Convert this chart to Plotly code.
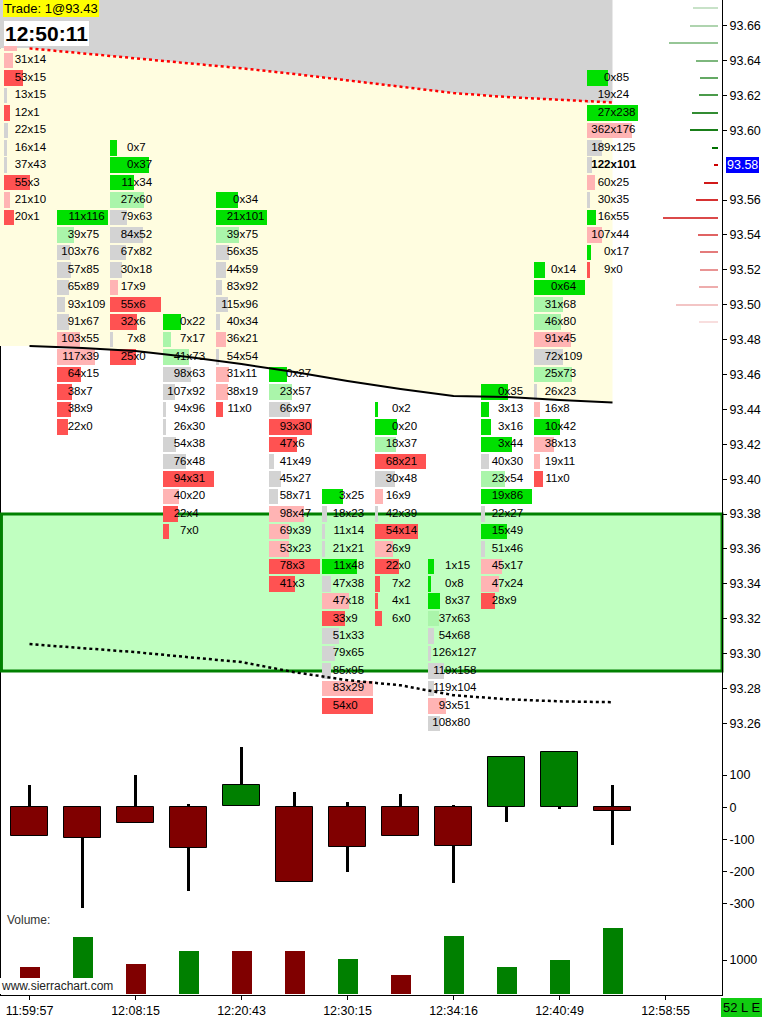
import plotly.graph_objects as go

# ---------------- DATA ----------------
time_labels = ["11:59:57", "12:08:15", "12:20:43", "12:30:15", "12:34:16", "12:40:49", "12:58:55"]
time_tick_bars = [0, 2, 4, 6, 8, 10, 12]

# footprint: top price of each bar, then bid / ask volume per price level going down
col_top_price = [93.67, 93.55, 93.59, 93.49, 93.56, 93.46, 93.39, 93.44, 93.35, 93.45, 93.52, 93.63]

c1_bid = [4, 98, 52, 31, 53, 13, 12, 22, 16, 37, 55, 21, 20]
c1_ask = [106, 97, 26, 14, 15, 15, 1, 15, 14, 43, 3, 10, 1]
c2_bid = [11, 39, 103, 57, 65, 93, 91, 103, 117, 64, 38, 38, 22]
c2_ask = [116, 75, 76, 85, 89, 109, 67, 55, 39, 15, 7, 9, 0]
c3_bid = [0, 0, 11, 27, 79, 84, 67, 30, 17, 55, 32, 7, 25]
c3_ask = [7, 37, 34, 60, 63, 52, 82, 18, 9, 6, 6, 8, 0]
c4_bid = [0, 7, 41, 98, 107, 94, 26, 54, 76, 94, 40, 22, 7]
c4_ask = [22, 17, 73, 63, 92, 96, 30, 38, 48, 31, 20, 4, 0]
c5_bid = [0, 21, 39, 56, 44, 83, 115, 40, 36, 54, 31, 38, 11]
c5_ask = [34, 101, 75, 35, 59, 92, 96, 34, 21, 54, 11, 19, 0]
c6_bid = [0, 23, 66, 93, 47, 41, 45, 58, 98, 69, 53, 78, 41]
c6_ask = [27, 57, 97, 30, 6, 49, 27, 71, 47, 39, 23, 3, 3]
c7_bid = [3, 18, 11, 21, 11, 47, 47, 33, 51, 79, 85, 83, 54]
c7_ask = [25, 23, 14, 21, 48, 38, 18, 9, 33, 65, 95, 29, 0]
c8_bid = [0, 0, 18, 68, 30, 16, 42, 54, 26, 22, 7, 4, 6]
c8_ask = [2, 20, 37, 21, 48, 9, 39, 14, 9, 0, 2, 1, 0]
c9_bid = [1, 0, 8, 37, 54, 126, 119, 119, 93, 108, 146, 98]
c9_ask = [15, 8, 37, 63, 68, 127, 158, 104, 51, 80, 25, 62]
c10_bid = [0, 3, 3, 3, 40, 23, 19, 22, 15, 51, 45, 47, 28]
c10_ask = [35, 13, 16, 44, 30, 54, 86, 27, 49, 46, 17, 24, 9]
c11_bid = [0, 0, 31, 46, 91, 72, 25, 26, 16, 10, 38, 19, 11]
c11_ask = [14, 64, 68, 80, 45, 109, 73, 23, 8, 42, 13, 11, 0]
c12_bid = [0, 19, 27, 362, 189, 122, 60, 30, 16, 107, 0, 9]
c12_ask = [85, 24, 238, 176, 125, 101, 25, 35, 55, 44, 17, 0]

current_price = 93.58
last_trade_text = "Trade: 1@93.43"
clock_text = "12:50:11"
status_text = "52 L E"

# study lines (one value per bar)
upper_band = [93.6470, 93.6442, 93.6413, 93.6384, 93.6356, 93.6323, 93.6286, 93.6249, 93.6214, 93.6191, 93.6174, 93.6160]
mid_line = [93.4763, 93.4752, 93.4735, 93.4700, 93.4660, 93.4614, 93.4563, 93.4517, 93.4477, 93.4471, 93.4454, 93.4440]
lower_line = [93.3054, 93.3031, 93.3008, 93.2979, 93.2951, 93.2893, 93.2847, 93.2818, 93.2761, 93.2738, 93.2726, 93.2721]
zone_high = 93.38
zone_low = 93.29

# market depth on the right
depth_price = [93.67, 93.66, 93.65, 93.64, 93.63, 93.62, 93.61, 93.60, 93.59,
               93.58, 93.57, 93.56, 93.55, 93.54, 93.53, 93.52, 93.51, 93.50, 93.49]
depth_size = [50, 56, 98, 44, 36, 38, 52, 56, 12,
              8, 28, 44, 110, 40, 36, 36, 38, 84, 38]

# delta candles
d_open = [0, 0, 0, 0, 4, 0, 0, 0, 0, 0, 0, 0]
d_high = [69, 0, 100, 10, 188, 47, 16, 41, 6, 155, 171, 69]
d_low = [-88, -312, -48, -260, 4, -231, -201, -88, -234, -45, -4, -116]
d_close = [-88, -96, -48, -127, 68, -231, -122, -88, -119, 155, 171, -12]
delta_ticks = [100, 0, -100, -200, -300]

# volume
volume = [794, 1676, 882, 1265, 1265, 1265, 1029, 559, 1706, 794, 1000, 1941]
volume_up = [0, 1, 0, 1, 0, 0, 1, 0, 1, 1, 1, 1]
volume_ticks = [1000]

# ---------------- STYLE ----------------
PX = 53.0                 # pixels per bar slot
X_MIN = -29.5 / PX
X_MAX = (722 - 29.5) / PX
PPX = 1744.0              # pixels per 1.00 of price
Y_TOP = 93.66 + 25.7 / PPX
Y_BOT = 93.66 - (732 - 25.7) / PPX
BAR_LEFT_PX = -25.5
BAR_MAX_PX = 51.0
BAR_MIN_PX = 3.0
SEP_PX = -2.0
ROW_H = 15.5 / PPX
DEPTH_RIGHT = (718 - 29.5) / PX
DEPTH_MAX_PX = 55.0

STRONG_GREEN = "#00e000"
LIGHT_GREEN = "#aaf5aa"
GRAY = "#d3d3d3"
LIGHT_RED = "#ffb4b4"
STRONG_RED = "#ff5252"
FONT = "Liberation Sans"


def cell_color(b, a):
    hi, lo = max(a, b), min(a, b)
    r = hi / lo if lo > 0 else float("inf")
    if r > 3:
        return STRONG_GREEN if a > b else STRONG_RED
    if r >= 1.7:
        return LIGHT_GREEN if a > b else LIGHT_RED
    return GRAY


def lerp_color(c0, c1, t):
    return "rgb(%d,%d,%d)" % tuple(round(c0[k] + (c1[k] - c0[k]) * t) for k in range(3))


cols_bid = [c1_bid, c2_bid, c3_bid, c4_bid, c5_bid, c6_bid, c7_bid, c8_bid, c9_bid, c10_bid, c11_bid, c12_bid]
cols_ask = [c1_ask, c2_ask, c3_ask, c4_ask, c5_ask, c6_ask, c7_ask, c8_ask, c9_ask, c10_ask, c11_ask, c12_ask]
n_bars = len(col_top_price)
bar_x = list(range(n_bars))

cell_y, cell_w, cell_base, cell_col = [], [], [], []
bid_x, bid_y, bid_t, ask_t = [], [], [], []
for i, (top, bids, asks) in enumerate(zip(col_top_price, cols_bid, cols_ask)):
    m = max(abs(a - b) for b, a in zip(bids, asks))
    for j, (b, a) in enumerate(zip(bids, asks)):
        p = round(top - 0.01 * j, 2)
        wpx = max(abs(a - b) / m * BAR_MAX_PX, BAR_MIN_PX)
        cell_y.append(p)
        cell_w.append(wpx / PX)
        cell_base.append(i + BAR_LEFT_PX / PX)
        cell_col.append(cell_color(b, a))
        bold = (i == n_bars - 1 and abs(p - current_price) < 1e-6)
        bid_x.append(i + SEP_PX / PX)
        bid_y.append(p)
        bid_t.append(f"<b>{b}</b>" if bold else str(b))
        ask_t.append(f"<b>x{a}</b>" if bold else f"x{a}")

fig = go.Figure()

# footprint cells
fig.add_trace(go.Bar(orientation="h", y=cell_y, x=cell_w, base=cell_base, width=ROW_H,
                     marker=dict(color=cell_col, line=dict(width=0)), xaxis="x", yaxis="y",
                     hoverinfo="skip"))

# market depth
dmax = max(depth_size)
d_len = [s / dmax * DEPTH_MAX_PX / PX for s in depth_size]
d_col = []
for p in depth_price:
    if p > current_price + 1e-6:
        k = round((p - current_price - 0.01) / 0.01)
        d_col.append(lerp_color((0, 112, 0), (200, 226, 200), k / 8))
    else:
        k = round((current_price - p) / 0.01)
        d_col.append(lerp_color((204, 0, 0), (248, 222, 222), k / 9))
fig.add_trace(go.Bar(orientation="h", y=depth_price, x=d_len, base=[DEPTH_RIGHT - l for l in d_len],
                     width=2.0 / PPX, marker=dict(color=d_col, line=dict(width=0)),
                     xaxis="x", yaxis="y", hoverinfo="skip"))

# study lines
fig.add_trace(go.Scatter(x=bar_x, y=upper_band, mode="lines",
                         line=dict(color="#ff0000", width=2.5, dash="3px,3px"), hoverinfo="skip"))
fig.add_trace(go.Scatter(x=bar_x, y=mid_line, mode="lines",
                         line=dict(color="#000000", width=2), hoverinfo="skip"))
fig.add_trace(go.Scatter(x=bar_x, y=lower_line, mode="lines",
                         line=dict(color="#000000", width=2.5, dash="3px,3px"), hoverinfo="skip"))

# footprint text
tf = dict(family=FONT, size=11.5, color="#000000")
fig.add_trace(go.Scatter(x=bid_x, y=bid_y, text=bid_t, mode="text", textposition="middle left",
                         textfont=tf, hoverinfo="skip"))
fig.add_trace(go.Scatter(x=bid_x, y=bid_y, text=ask_t, mode="text", textposition="middle right",
                         textfont=tf, hoverinfo="skip"))

# delta candles
UP, DN = "#008000", "#800000"
fig.add_trace(go.Bar(x=bar_x, y=[h - l for h, l in zip(d_high, d_low)], base=d_low, width=3.5 / PX,
                     marker=dict(color="#000000", line=dict(width=0)), xaxis="x", yaxis="y2",
                     hoverinfo="skip"))
fig.add_trace(go.Bar(x=bar_x, y=[c - o for c, o in zip(d_close, d_open)], base=d_open, width=37 / PX,
                     marker=dict(color=[UP if c >= o else DN for c, o in zip(d_close, d_open)],
                                 line=dict(width=1, color="#000000")),
                     xaxis="x", yaxis="y2", hoverinfo="skip"))

# volume
fig.add_trace(go.Bar(x=bar_x, y=volume, width=20 / PX,
                     marker=dict(color=[UP if u else DN for u in volume_up], line=dict(width=0)),
                     xaxis="x", yaxis="y3", hoverinfo="skip"))

# background bands built from the study lines
def path_of(xs, ys):
    return "M " + " L ".join(f"{x:.5f},{y:.5f}" for x, y in zip(xs, ys)) + " Z"

gray_path = path_of([X_MIN, X_MIN] + bar_x + [bar_x[-1]],
                    [Y_TOP, upper_band[0]] + upper_band + [Y_TOP])
yellow_path = path_of([X_MIN] + bar_x + bar_x[::-1] + [X_MIN],
                      [upper_band[0]] + upper_band + mid_line[::-1] + [mid_line[0]])

H = 995.0
main_dom = [(H - 732) / H, 1.0]
delta_dom = [(H - 912) / H, (H - 732) / H]
vol_dom = [0.0, (H - 912) / H]
DZ, DS = 807.3, 0.3218
VZ, VS = 994.0, 0.034

shapes = [
    dict(type="line", xref="paper", yref="paper", x0=0, x1=0, y0=0, y1=1,
         line=dict(color="#000000", width=2), layer="below"),
    dict(type="path", xref="x", yref="y", path=gray_path, fillcolor="#d3d3d3",
         line=dict(width=0), layer="below"),
    dict(type="path", xref="x", yref="y", path=yellow_path, fillcolor="#fffde0",
         line=dict(width=0), layer="below"),
    dict(type="rect", xref="paper", yref="y", x0=0.002, x1=1, y0=zone_low, y1=zone_high,
         fillcolor="#c0ffc0", line=dict(color="#008000", width=3), layer="below"),
]

axfont = dict(family=FONT, size=12.5, color="#000000")
annotations = [
    dict(xref="paper", yref="paper", x=3 / 722, y=1.0, xanchor="left", yanchor="top",
         text=last_trade_text, showarrow=False, bgcolor="#ffff00", borderpad=1, borderwidth=0,
         font=dict(family=FONT, size=13, color="#000000")),
    dict(xref="paper", yref="paper", x=4 / 722, y=(H - 21) / H, xanchor="left", yanchor="top",
         text=f"<b>{clock_text}</b>", showarrow=False, bgcolor="#ffffff", borderpad=1, borderwidth=0,
         font=dict(family=FONT, size=21, color="#000000")),
    dict(xref="paper", yref="y", x=726 / 722, y=current_price, xanchor="left", yanchor="middle",
         text=f"{current_price:.2f}", showarrow=False, bgcolor="#0000ff", borderpad=1, borderwidth=0,
         font=dict(family=FONT, size=12.5, color="#ffffff")),
    dict(xref="paper", yref="paper", x=741 / 722, y=(H - 1007) / H, xanchor="center", yanchor="middle",
         text=status_text, showarrow=False, bgcolor="#11cc11", borderpad=2, borderwidth=0,
         font=dict(family=FONT, size=13, color="#000000")),
    dict(xref="paper", yref="paper", x=5 / 722, y=(H - 920) / H, xanchor="left", yanchor="middle",
         text="Volume:", showarrow=False, font=dict(family=FONT, size=12, color="#333333")),
    dict(xref="paper", yref="paper", x=0, y=(H - 986) / H, xanchor="left", yanchor="middle",
         text="www.sierrachart.com", showarrow=False, bgcolor="#ffffff", borderpad=1, borderwidth=0,
         font=dict(family=FONT, size=12, color="#222222")),
]

price_ticks = [round(93.26 + 0.02 * k, 2) for k in range(21)]
price_ticks = [p for p in price_ticks if abs(p - current_price) > 1e-6]

fig.update_layout(
    width=764, height=1017,
    margin=dict(l=0, r=42, t=0, b=22),
    paper_bgcolor="#ffffff", plot_bgcolor="#ffffff",
    showlegend=False, hovermode=False, barmode="overlay", bargap=0,
    shapes=shapes, annotations=annotations,
    xaxis=dict(range=[X_MIN, X_MAX], anchor="y3", showgrid=False, zeroline=False,
               tickvals=time_tick_bars, ticktext=time_labels, ticks="outside", ticklen=4,
               tickcolor="#000000", showline=True, linecolor="#000000", linewidth=1,
               tickfont=axfont),
    yaxis=dict(domain=main_dom, range=[Y_BOT, Y_TOP], anchor="x", side="right",
               showgrid=False, zeroline=False, tickvals=price_ticks, tickformat=".2f",
               ticks="outside", ticklen=4, tickcolor="#000000", showline=True,
               linecolor="#000000", linewidth=1, tickfont=axfont),
    yaxis2=dict(domain=delta_dom, range=[(DZ - 912) / DS, (DZ - 732) / DS], anchor="x",
                side="right", showgrid=False, zeroline=False, tickvals=delta_ticks,
                ticktext=[str(v) for v in delta_ticks],
                ticks="outside", ticklen=4, tickcolor="#000000", showline=True,
                linecolor="#000000", linewidth=1, tickfont=axfont),
    yaxis3=dict(domain=vol_dom, range=[(VZ - 995) / VS, (VZ - 912) / VS], anchor="x",
                side="right", showgrid=False, zeroline=False, tickvals=volume_ticks,
                ticktext=[str(v) for v in volume_ticks],
                ticks="outside", ticklen=4, tickcolor="#000000", showline=True,
                linecolor="#000000", linewidth=1, tickfont=axfont),
)

fig.write_html("out.html", config={"displayModeBar": False},
               post_script="document.body.style.margin='0px';document.body.style.overflow='hidden';")
